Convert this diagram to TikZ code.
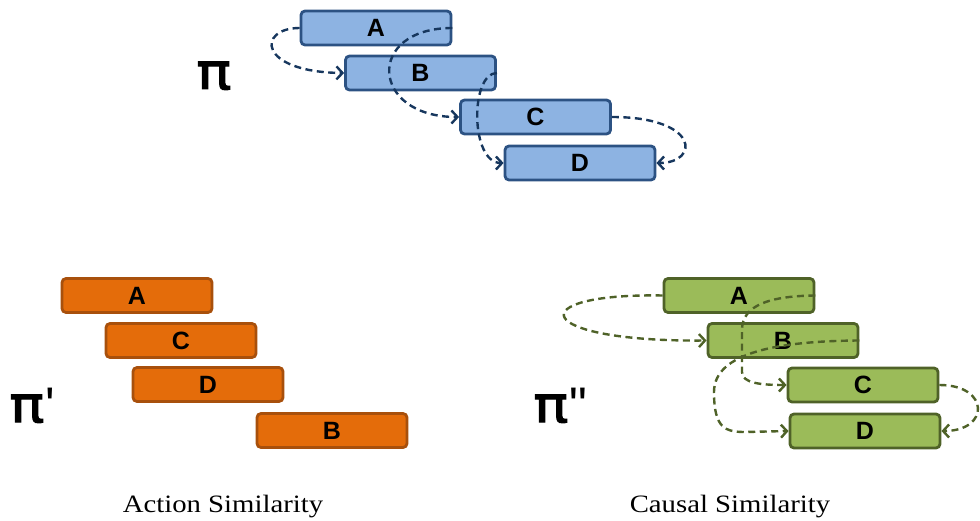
\documentclass[tikz,border=0pt]{standalone}
\usepackage{fontspec}
\setmainfont{Liberation Serif}
\newfontfamily\boxfont{Liberation Sans}[Ligatures=TeXOff]
\newfontfamily\pifont{DejaVu Sans}[Ligatures=TeXOff, FakeBold=2, FakeStretch=1.17]
\newfontfamily\capfont{Liberation Serif}[FakeStretch=1.15]
\usetikzlibrary{arrows.meta}

\definecolor{bluefill}{HTML}{8DB3E2}
\definecolor{blueline}{HTML}{2C5283}
\definecolor{bluearrow}{HTML}{17375E}
\definecolor{orangefill}{HTML}{E46C0A}
\definecolor{orangeline}{HTML}{A8500C}
\definecolor{greenfill}{HTML}{9BBB59}
\definecolor{greenline}{HTML}{4F6228}

\newcommand{\primemark}[1]{{\boxfont\hspace{1pt}#1}}

\tikzset{
  act/.style={rounded corners=4pt, line width=2.8pt, minimum width=150pt,
    minimum height=34pt, inner sep=0pt,
    font=\boxfont\bfseries\fontsize{25}{25}\selectfont},
  actblue/.style={act, draw=blueline, fill=bluefill},
  actorange/.style={act, draw=orangeline, fill=orangefill},
  actgreen/.style={act, draw=greenline, fill=greenfill},
  link/.style={line width=2.4pt, dash pattern=on 7pt off 4.5pt,
    -{Straight Barb[length=6pt,width=13pt,line width=2.4pt]}},
  bluelink/.style={link, draw=bluearrow},
  greenlink/.style={link, draw=greenline},
  planname/.style={anchor=base west, inner sep=0pt,
    font=\pifont\fontsize{50}{50}\selectfont},
  caption/.style={anchor=base, inner sep=0pt,
    font=\capfont\fontsize{25}{25}\selectfont}
}

\begin{document}
\begin{tikzpicture}[x=1pt, y=-1pt]
\useasboundingbox (0,0) rectangle (980,521);

% plan pi
\node[planname] (pi) at (196,89) {π};
\node[actblue] (pA) at (376,28) {A};
\node[actblue] (pB) at (420.5,73) {B};
\node[actblue] (pC) at (535.5,117) {C};
\node[actblue] (pD) at (580,163) {D};

\draw[bluelink] (pA.west) .. controls (257,28) and (257,72) .. (pB.west);
\draw[bluelink] (pA.east) .. controls (365,28) and (370,117) .. (pC.west);
\draw[bluelink] (pB.east) .. controls (470,73) and (470,163) .. (pD.west);
\draw[bluelink] (pC.east) .. controls (700,117) and (700,163) .. (pD.east);

% plan pi' (action similarity)
\node[planname] (pi1) at (9,422) {π\primemark{'}};
\node[actorange] (qA) at (137,295.5) {A};
\node[actorange] (qC) at (181,340.5) {C};
\node[actorange] (qD) at (208,384.5) {D};
\node[actorange] (qB) at (332,430.5) {B};
\node[caption] (cap1) at (223,512) {Action Similarity};

% plan pi'' (causal similarity)
\node[planname] (pi2) at (533,422) {π\primemark{"}};
\node[actgreen] (rA) at (739,295.5) {A};
\node[actgreen] (rB) at (783,340.5) {B};
\node[actgreen] (rC) at (863,385) {C};
\node[actgreen] (rD) at (865,431) {D};
\node[caption] (cap2) at (730,512) {Causal Similarity};

\draw[greenlink] (rA.west) .. controls (520,293) and (530,342) .. (rB.west);
\draw[greenlink] (rA.east) .. controls (770,296) and (742,305) .. (742,330)
  -- (742,372) .. controls (742,383) and (760,385) .. (rC.west);
\draw[greenlink] (rB.east) .. controls (780,341) and (714,352) .. (714,392)
  .. controls (714,428) and (725,432) .. (745,432) -- (rD.west);
\draw[greenlink] (rC.east) .. controls (990,385) and (990,431) .. (rD.east);
\end{tikzpicture}
\end{document}
